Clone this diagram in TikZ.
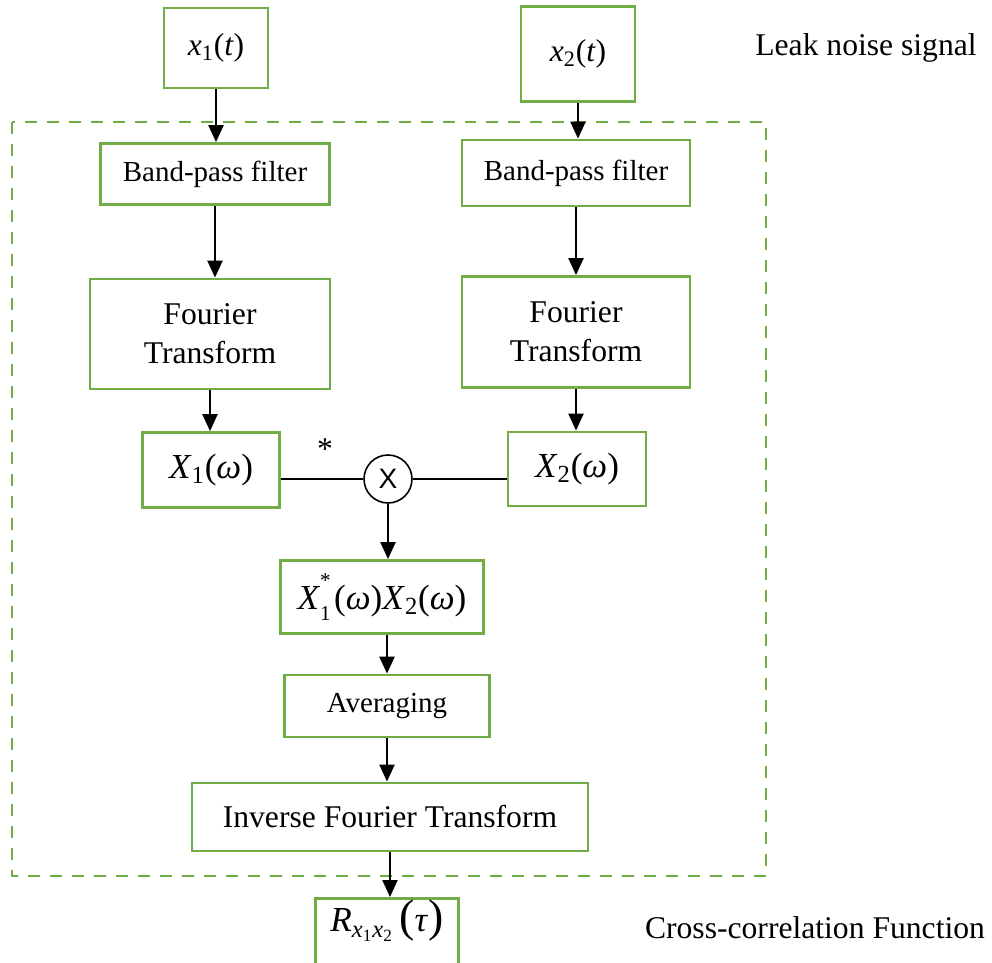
\documentclass[tikz,border=0pt]{standalone}
\usepackage{fontspec}
\setmainfont{Liberation Serif}
\setsansfont{Liberation Sans}
\usetikzlibrary{arrows.meta}
\definecolor{boxgreen}{RGB}{112,173,71}
\newcommand{\vsub}[1]{\textsubscript{#1}}
\newcommand{\bigpar}[1]{{\fontsize{26}{26}\selectfont #1}}
\newcommand{\smallidx}[2]{\raisebox{#1}{\fontsize{12}{12}\selectfont #2}}

\begin{document}
\begin{tikzpicture}[x=0.02cm, y=-0.02cm,
    block/.style={draw=boxgreen, line width=1.6pt, align=center, inner sep=2pt},
    flow/.style={line width=1.3pt, -{Triangle[length=0.34cm, width=0.3cm]}},
    txt/.style={font=\fontsize{16.5}{19}\selectfont},
    big/.style={font=\fontsize{18}{22}\selectfont},
    maths/.style={font=\fontsize{20}{24}\selectfont}
]
\useasboundingbox (0,0) rectangle (992,963);

% processing frame
\draw[boxgreen, line width=1.5pt, dash pattern=on 0.24cm off 0.2cm] (12,122) rectangle (766,876);

% inputs
\node[block, big, minimum width=2.08cm, minimum height=1.6cm] (x1) at (216,48) {\textit{x}\vsub{1}(\textit{t})};
\node[block, big, minimum width=2.28cm, minimum height=1.9cm] (x2) at (578,54) {\textit{x}\vsub{2}(\textit{t})};
\node[big] (leak) at (866,48) {Leak noise signal};

% two branches
\node[block, txt, minimum width=4.58cm, minimum height=1.22cm] (bpf1) at (215,174) {Band-pass filter};
\node[block, txt, minimum width=4.56cm, minimum height=1.32cm] (bpf2) at (576,173) {Band-pass filter};
\node[block, big, minimum width=4.8cm, minimum height=2.2cm] (ft1) at (210,334) {Fourier\\Transform};
\node[block, big, minimum width=4.56cm, minimum height=2.22cm] (ft2) at (576,332) {Fourier\\Transform};
\node[block, maths, minimum width=2.74cm, minimum height=1.5cm] (X1) at (211,470) {\textit{X}\vsub{1}(\textit{ω})};
\node[block, maths, minimum width=2.76cm, minimum height=1.48cm] (X2) at (577,469) {\textit{X}\vsub{2}(\textit{ω})};

% multiplier
\node[circle, draw, line width=0.9pt, minimum size=0.96cm, inner sep=0pt, font=\sffamily\fontsize{16}{18}\selectfont] (mul) at (388,479) {X};
\node[font=\fontsize{18}{20}\selectfont] (conj) at (325,449) {*};

% common chain
\node[block, maths, minimum width=4.06cm, minimum height=1.46cm] (prod) at (382,597) {\textit{X}\rlap{\smallidx{0.62em}{*}}\smallidx{-0.3em}{1}\kern0.1em(\textit{ω})\textit{X}\vsub{2}(\textit{ω})};
\node[block, txt, minimum width=4.1cm, minimum height=1.24cm] (avg) at (387,706) {Averaging};
\node[block, big, minimum width=7.92cm, minimum height=1.36cm] (ift) at (390,817) {Inverse Fourier Transform};
\node[block, maths, minimum width=2.86cm, text height=0.6cm, text depth=1.0cm, anchor=north] (corr) at (387,897) {\textit{R}\vsub{\textit{x}\vsub{1}\textit{x}\vsub{2}}\,\bigpar{(}\textit{τ}\bigpar{)}};
\node[big] (ccf) at (815,928) {Cross-correlation Function};

\draw[flow] (x1.south) -- (x1.south |- bpf1.north);
\draw[flow] (x2.south) -- (x2.south |- bpf2.north);
\draw[flow] (bpf1.south) -- (bpf1.south |- ft1.north);
\draw[flow] (bpf2.south) -- (bpf2.south |- ft2.north);
\draw[flow] (ft1.south) -- (ft1.south |- X1.north);
\draw[flow] (ft2.south) -- (ft2.south |- X2.north);
\draw[line width=0.7pt] (X1.east |- mul) -- (mul.west);
\draw[line width=1.5pt] (mul.east) -- (X2.west |- mul);
\draw[flow] (mul.south) -- (mul.south |- prod.north);
\draw[flow] (avg.north |- prod.south) -- (avg.north);
\draw[flow] (avg.south) -- (avg.south |- ift.north);
\draw[flow] (ift.south) -- (ift.south |- corr.north);
\end{tikzpicture}
\end{document}
